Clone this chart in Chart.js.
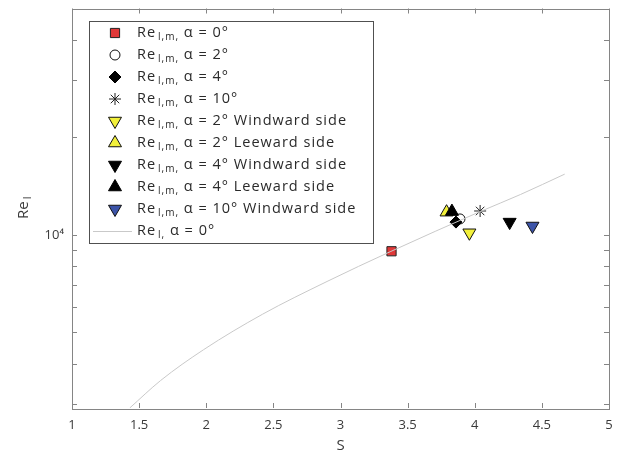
<!DOCTYPE html>
<html>
<head>
<meta charset="utf-8">
<script src="https://cdn.jsdelivr.net/npm/chart.js@4.4.1/dist/chart.umd.min.js"></script>
<style>
  html, body { margin: 0; padding: 0; background: #fff; }
</style>
</head>
<body>
<canvas id="chart" width="630" height="459"></canvas>
<script>
/* ---- Data ------------------------------------------------------ */
const FONT = "'Open Sans', 'DejaVu Sans', sans-serif";

const X_TICKS = [1, 1.5, 2, 2.5, 3, 3.5, 4, 4.5, 5];
const Y_TICKS = [3000, 4000, 5000, 6000, 7000, 8000, 9000, 10000, 20000, 30000, 40000];

// measured Re_l,m points (one per series, legend order)
const POINT_S  = [3.38, 3.89, 3.86, 4.04, 3.96, 3.79, 4.26, 3.83, 4.43];
const POINT_RE = [8900, 11200, 10950, 11850, 10150, 11750, 10950, 11800, 10650];
const POINT_LABELS = [
  ' α = 0°', ' α = 2°', ' α = 4°', ' α = 10°',
  ' α = 2° Windward side', ' α = 2° Leeward side',
  ' α = 4° Windward side', ' α = 4° Leeward side',
  ' α = 10° Windward side'
];

// Re_l curve, alpha = 0
const CURVE_S  = [1.43, 1.66, 1.98, 2.42, 2.90, 3.37, 4.04, 4.34, 4.67];
const CURVE_RE = [2920, 3550, 4420, 5690, 7180, 8870, 11800, 13320, 15400];

/* ---- Marker styles --------------------------------------------- */
const MARKERS = [
  { style: 'rect',     r: 6.5, rot: 0,   fill: '#e03838', edge: '#222' },
  { style: 'circle',   r: 5,   rot: 0,   fill: 'rgba(0,0,0,0)', edge: '#111' },
  { style: 'rectRot',  r: 6,   rot: 0,   fill: '#000', edge: '#000' },
  { style: 'star',     r: 6,   rot: 0,   fill: '#000', edge: '#222' },
  { style: 'triangle', r: 7.5, rot: 180, fill: '#f2f03a', edge: '#111' },
  { style: 'triangle', r: 7.5, rot: 0,   fill: '#f2f03a', edge: '#111' },
  { style: 'triangle', r: 7.5, rot: 180, fill: '#000', edge: '#000' },
  { style: 'triangle', r: 7.5, rot: 0,   fill: '#000', edge: '#000' },
  { style: 'triangle', r: 7.5, rot: 180, fill: '#3c54a8', edge: '#111' },
];

const N = POINT_S.length;
const datasets = POINT_S.map((s, i) => ({
  type: 'scatter',
  label: POINT_LABELS[i],
  data: [{ x: s, y: POINT_RE[i] }],
  pointStyle: MARKERS[i].style,
  pointRadius: MARKERS[i].r,
  pointRotation: MARKERS[i].rot,
  backgroundColor: MARKERS[i].fill,
  borderColor: MARKERS[i].edge,
  borderWidth: 1,
  order: N - i,
}));
datasets.push({
  type: 'line',
  label: 'curve',
  data: CURVE_S.map((s, i) => ({ x: s, y: CURVE_RE[i] })),
  borderColor: '#c9c9c9',
  borderWidth: 1,
  pointRadius: 0,
  cubicInterpolationMode: 'monotone',
  fill: false,
  order: 0,
});

/* ---- Helpers --------------------------------------------------- */
function drawRe(ctx, x, y, sub, rest, size) {
  ctx.font = size + 'px ' + FONT;
  ctx.fillText('Re', x, y);
  x += ctx.measureText('Re').width + 2;
  ctx.font = Math.round(size * 0.72) + 'px ' + FONT;
  ctx.fillText(sub, x, y + size * 0.28);
  x += ctx.measureText(sub).width;
  ctx.font = size + 'px ' + FONT;
  if (rest) ctx.fillText(rest, x, y);
}

/* ---- Plugin: axes box, inward ticks, y title, legend ----------- */
const matlabAxes = {
  id: 'matlabAxes',
  afterDraw(chart) {
    const ctx = chart.ctx;
    const a = chart.chartArea;
    const xs = chart.scales.x, ys = chart.scales.y;
    ctx.save();
    ctx.strokeStyle = '#858585';
    ctx.lineWidth = 1;
    ctx.strokeRect(Math.round(a.left) + 0.5, Math.round(a.top) + 0.5,
                   Math.round(a.right - a.left), Math.round(a.bottom - a.top));
    ctx.beginPath();
    for (const v of X_TICKS) {
      const px = Math.round(xs.getPixelForValue(v)) + 0.5;
      ctx.moveTo(px, a.bottom); ctx.lineTo(px, a.bottom - 5);
      ctx.moveTo(px, a.top); ctx.lineTo(px, a.top + 5);
    }
    for (const v of Y_TICKS) {
      const py = Math.round(ys.getPixelForValue(v)) + 0.5;
      ctx.moveTo(a.left, py); ctx.lineTo(a.left + 5, py);
      ctx.moveTo(a.right, py); ctx.lineTo(a.right - 5, py);
    }
    ctx.stroke();

    // y axis title
    ctx.fillStyle = '#3a3a3a';
    ctx.textBaseline = 'middle';
    ctx.textAlign = 'left';
    ctx.translate(24, 219);
    ctx.rotate(-Math.PI / 2);
    drawRe(ctx, 0, 0, 'l', '', 15);
    ctx.restore();

    // legend
    ctx.save();
    const L = 89, T = 21, W = 284, H = 222, rowH = 22;
    ctx.fillStyle = '#fff';
    ctx.fillRect(L, T, W, H);
    ctx.strokeStyle = '#505050';
    ctx.lineWidth = 1;
    ctx.strokeRect(L + 0.5, T + 0.5, W, H);
    ctx.textBaseline = 'middle';
    ctx.textAlign = 'left';
    ctx.letterSpacing = '1px';
    for (let i = 0; i < N; i++) {
      const cy = T + 12 + rowH * i;
      const m = MARKERS[i];
      ctx.fillStyle = m.fill;
      ctx.strokeStyle = m.edge;
      ctx.lineWidth = 1;
      Chart.helpers.drawPoint(ctx, { pointStyle: m.style, radius: m.r, rotation: m.rot, borderWidth: 1 }, 115, cy);
      ctx.fillStyle = '#2a2a2a';
      drawRe(ctx, 137, cy, 'l,m,', POINT_LABELS[i], 14.5);
    }
    const cy = T + 12 + rowH * N;
    ctx.strokeStyle = '#c9c9c9';
    ctx.beginPath();
    ctx.moveTo(93, cy + 0.5); ctx.lineTo(132, cy + 0.5);
    ctx.stroke();
    ctx.fillStyle = '#2a2a2a';
    drawRe(ctx, 137, cy, 'l,', ' α = 0°', 14.5);
    ctx.restore();
  }
};

/* ---- Chart ----------------------------------------------------- */
new Chart(document.getElementById('chart'), {
  data: { datasets },
  plugins: [matlabAxes],
  options: {
    responsive: false,
    devicePixelRatio: 1,
    animation: false,
    layout: { padding: { left: 0, right: 21, top: 4, bottom: 0 } },
    plugins: { legend: { display: false }, tooltip: { enabled: false } },
    scales: {
      x: {
        type: 'linear',
        min: 1, max: 5,
        afterBuildTicks: s => { s.ticks = X_TICKS.map(v => ({ value: v })); },
        afterFit: s => { s.height = 51; s.paddingLeft = 0; s.paddingRight = 0; },
        ticks: {
          color: '#3a3a3a', padding: 9, font: { family: FONT, size: 13 }, autoSkip: false, maxRotation: 0,
          callback: v => String(v),
        },
        grid: { display: false, drawTicks: false },
        border: { display: false },
        title: { display: true, text: 'S', color: '#3a3a3a', font: { family: FONT, size: 15 }, padding: { top: 0, bottom: 4 } },
      },
      y: {
        type: 'logarithmic',
        min: 2920, max: 50000,
        afterBuildTicks: s => { s.ticks = Y_TICKS.map(v => ({ value: v })); },
        afterFit: s => { s.width = 72; s.paddingTop = 0; s.paddingBottom = 0; },
        ticks: {
          color: '#3a3a3a', padding: 8, autoSkip: false,
          font: { family: FONT, size: 13 },
          callback: v => (v === 10000 ? '10⁴' : ''),
        },
        grid: { display: false, drawTicks: false },
        border: { display: false },
      }
    }
  }
});
</script>
</body>
</html>
